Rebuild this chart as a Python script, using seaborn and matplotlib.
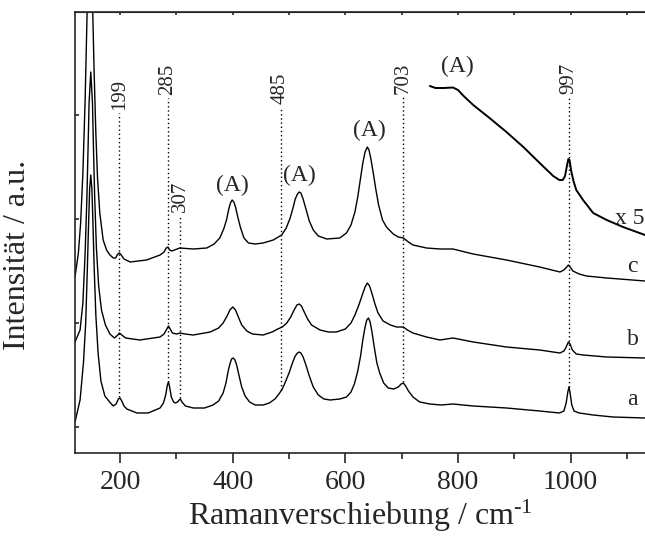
import numpy as np
import matplotlib
matplotlib.use('Agg')
import matplotlib.pyplot as plt
import seaborn as sns

# Raman spectra (x in cm-1, y in arbitrary units)
a_x = [120, 129, 135, 139, 142, 144, 146, 148, 150, 152, 154, 157, 161, 166, 173, 183, 188, 193, 197, 200,
       203, 207, 212, 230, 250, 271, 277, 281, 284, 286, 288, 291, 295, 298, 302, 305, 307, 310, 316, 330,
       350, 365, 375, 383, 388, 392, 395, 398, 401, 404, 407, 411, 416, 422, 430, 440, 454, 465, 475, 482,
       487, 492, 500, 506, 511, 515, 518, 521, 525, 530, 536, 543, 552, 562, 573, 590, 602, 610, 616, 622,
       627, 631, 635, 638, 641, 644, 647, 651, 656, 661, 668, 676, 686, 694, 699, 703, 707, 712, 720, 732,
       750, 770, 791, 827, 886, 945, 980, 988, 992, 995, 997, 999, 1002, 1006, 1015, 1040, 1075, 1132]
a_y = [31, 53, 90, 130, 186, 227, 264, 278, 264, 227, 186, 138, 100, 72, 57, 50, 47, 49, 54, 55,
       52, 47, 44, 40, 40, 45, 50, 58, 68, 71, 66, 56, 51, 50, 51, 53, 54, 51, 47, 45,
       45, 48, 52, 60, 70, 82, 89, 94, 95, 93, 88, 78, 66, 57, 51, 48, 48, 50, 54, 59,
       63, 69, 80, 90, 97, 100, 101, 100, 96, 88, 77, 66, 58, 54, 53, 54, 56, 61, 69, 82,
       97, 113, 126, 133, 135, 131, 122, 107, 90, 80, 70, 65, 64, 66, 69, 70, 67, 62, 56, 51,
       49, 48, 49, 47, 45, 42, 40, 42, 50, 61, 66, 60, 48, 42, 40, 38, 36, 35]

b_x = [120, 129, 134, 138, 141, 143, 145, 148, 151, 153, 155, 158, 162, 167, 174, 182, 190, 196, 199, 203,
       210, 235, 271, 278, 283, 286, 289, 293, 300, 307, 315, 330, 360, 375, 383, 390, 395, 400, 405, 410,
       416, 425, 435, 454, 470, 480, 488, 496, 503, 509, 514, 518, 522, 527, 533, 540, 555, 570, 584, 600,
       610, 617, 624, 630, 635, 639, 643, 647, 652, 658, 667, 680, 691, 698, 703, 710, 720, 744, 768, 791,
       827, 886, 945, 981, 988, 992, 996, 999, 1003, 1010, 1022, 1064, 1132]
b_y = [111, 123, 150, 200, 253, 300, 350, 381, 350, 300, 255, 205, 167, 143, 128, 119, 115, 118, 120, 118,
       115, 113, 116, 119, 124, 127, 124, 120, 119, 120, 119, 118, 121, 125, 130, 137, 143, 146, 143, 136,
       128, 122, 119, 118, 121, 124, 126, 130, 136, 143, 148, 149, 147, 141, 134, 128, 123, 121, 121, 124,
       130, 138, 148, 158, 166, 170, 167, 160, 150, 140, 132, 128, 126, 126, 126, 123, 120, 116, 113, 115,
       111, 106, 103, 100, 102, 106, 111, 109, 103, 99, 98, 96, 95]

c_x = [120, 126, 130, 134, 138, 142, 144, 146, 148, 151, 154, 157, 160, 164, 170, 176, 182, 188, 192, 196,
       199, 202, 207, 218, 247, 271, 278, 282, 285, 288, 292, 306, 330, 354, 367, 377, 384, 389, 393, 396,
       399, 402, 405, 409, 414, 420, 428, 440, 454, 472, 487, 495, 502, 507, 511, 515, 518, 521, 525, 530,
       536, 543, 552, 567, 590, 602, 610, 617, 622, 627, 631, 635, 639, 642, 645, 649, 654, 659, 666, 673,
       685, 694, 703, 712, 720, 744, 768, 791, 827, 886, 945, 981, 988, 993, 996, 999, 1004, 1015, 1028, 1064,
       1132]
c_y = [176, 200, 230, 280, 353, 453, 510, 540, 530, 453, 380, 320, 275, 240, 213, 203, 198, 195, 195, 199,
       200, 198, 194, 191, 193, 198, 201, 205, 206, 203, 202, 205, 204, 205, 209, 215, 224, 233, 244, 250,
       253, 251, 246, 236, 225, 215, 210, 209, 210, 213, 218, 225, 235, 245, 254, 259, 261, 260, 254, 244,
       232, 223, 217, 214, 215, 220, 228, 241, 256, 275, 290, 301, 306, 303, 295, 282, 264, 248, 233, 226,
       219, 216, 215, 211, 208, 205, 204, 204, 199, 193, 186, 181, 183, 186, 188, 186, 182, 179, 177, 175,
       172]

x5_x = [750, 760, 775, 791, 800, 810, 827, 856, 886, 916, 945, 969, 980, 986, 990, 993, 996, 998, 1001, 1005,
        1010, 1022, 1040, 1064, 1093, 1132]
x5_y = [367, 365, 365, 365.5, 363, 357, 348, 335, 321, 306, 290, 277, 273, 273, 277, 286, 294, 293, 282, 272,
        263, 253, 240, 233, 226, 218]

# marked bands: position, line bottom, line top
band_pos = [199, 285, 307, 485, 703, 997]
band_lo = [56, 71, 55, 63, 71, 66]
band_hi = [340, 355, 238, 346, 356, 356]

# anatase labels
anatase_x = [400, 519, 642, 798]
anatase_y = [268, 278, 323, 387]

curve_labels = ['a', 'b', 'c', 'x 5']
curve_label_x = [1110, 1110, 1110, 1078]
curve_label_y = [48, 108, 181, 229]

xticks = [200, 400, 600, 800, 1000]
xminor = [300, 500, 700, 900, 1100]
yticks = [26, 130, 234, 338]

sns.set_style('ticks')
plt.rcParams['font.family'] = ['Liberation Serif', 'DejaVu Serif']
plt.rcParams['mathtext.fontset'] = 'custom'
plt.rcParams['mathtext.rm'] = 'Liberation Serif'
plt.rcParams['mathtext.default'] = 'regular'

fig = plt.figure(figsize=(6.45, 5.42), dpi=100)
ax = fig.add_axes([75 / 645, 89 / 542, 1 - 75 / 645, 441 / 542])

for xs, ys, lw in [(a_x, a_y, 1.0), (b_x, b_y, 1.0), (c_x, c_y, 1.0), (x5_x, x5_y, 1.4)]:
    sns.lineplot(x=xs, y=ys, ax=ax, color='black', lw=lw, sort=False, estimator=None)

ax.vlines(band_pos, band_lo, band_hi, colors='black', linestyles=(0, (1, 2)), lw=1.0)
for p, h in zip(band_pos, band_hi):
    ax.text(p, h + 3, str(p), rotation=90, ha='center', va='bottom', fontsize=15)

for x, y in zip(anatase_x, anatase_y):
    ax.text(x, y, '(A)', ha='center', va='center', fontsize=17)

for t, x, y in zip(curve_labels, curve_label_x, curve_label_y):
    ax.text(x, y, t, ha='left' if t == 'x 5' else 'center', va='baseline', fontsize=17, clip_on=False)

ax.set_xlim(120, 1132)
ax.set_ylim(0, 441)
ax.set_xticks(xticks)
ax.set_xticks(xminor, minor=True)
ax.set_yticks(yticks)
ax.set_yticklabels([])
ax.tick_params(axis='x', which='major', direction='out', length=7, width=1.2, labelsize=20, pad=5)
ax.tick_params(axis='x', which='minor', direction='out', length=4, width=1.2)
ax.tick_params(axis='y', direction='in', length=3, width=1.2)
top = ax.secondary_xaxis('top')
top.set_xticks(xticks)
top.set_xticklabels([])
top.tick_params(direction='in', length=2, width=1.2)
top.set_xticks(xminor, minor=True)
top.tick_params(which='minor', direction='in', length=2, width=1.2)
for s in ['left', 'bottom']:
    ax.spines[s].set_linewidth(1.2)
top.spines['top'].set_linewidth(1.2)
ax.spines['right'].set_visible(False)

ax.set_xlabel('Ramanverschiebung / cm$^{\u20101}$', fontsize=23, labelpad=2)
ax.set_ylabel('Intensität / a.u.', fontsize=23)
ax.yaxis.set_label_coords(-0.075, 0.45)

fig.savefig('out.png', dpi=100)
